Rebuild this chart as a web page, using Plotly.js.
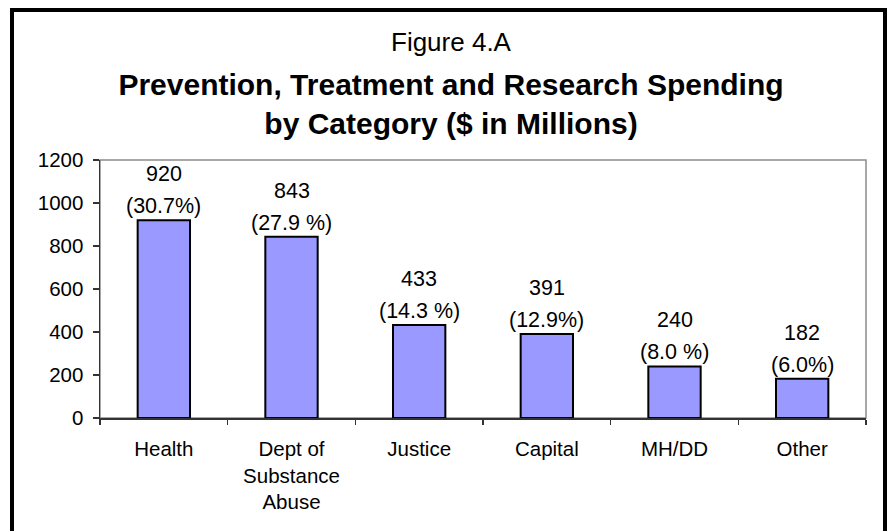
<!DOCTYPE html>
<html>
<head>
<meta charset="utf-8">
<script src="https://cdn.plot.ly/plotly-3.0.1.min.js"></script>
<style>
html,body{margin:0;padding:0;background:#fff;}
#chart{width:890px;height:531px;}
</style>
</head>
<body>
<div id="chart"></div>
<script>
const categories = ["Health", "Dept of<br>Substance<br>Abuse", "Justice", "Capital", "MH/DD", "Other"];
const values = [920, 843, 433, 391, 240, 182];
const percentLabels = ["(30.7%)", "(27.9 %)", "(14.3 %)", "(12.9%)", "(8.0 %)", "(6.0%)"];
const yTicks = [0, 200, 400, 600, 800, 1000, 1200];

const FONT = "Arial, 'Liberation Sans', sans-serif";

const trace = {
  type: "bar",
  x: categories,
  y: values,
  width: 0.41,
  marker: {color: "#9999FF", line: {color: "#000000", width: 2}},
  hoverinfo: "x+y",
  showlegend: false
};

const annotations = [];
categories.forEach((c, i) => {
  annotations.push({
    x: c, y: values[i], xref: "x", yref: "y",
    text: String(values[i]), showarrow: false,
    yanchor: "middle", yshift: 46,
    font: {family: FONT, size: 21.5, color: "#000"}
  });
  annotations.push({
    x: c, y: values[i], xref: "x", yref: "y",
    text: percentLabels[i], showarrow: false,
    yanchor: "middle", yshift: 14,
    font: {family: FONT, size: 21.5, color: "#000"}
  });
});
annotations.push({
  xref: "paper", yref: "paper", x: (451 - 100) / 766, y: (418 - 42) / 258,
  xanchor: "center", yanchor: "middle", showarrow: false,
  text: "Figure 4.A", font: {family: FONT, size: 26, color: "#000"}
});

const layout = {
  width: 890, height: 531,
  margin: {l: 100, r: 24, t: 160, b: 113},
  paper_bgcolor: "#ffffff",
  plot_bgcolor: "#ffffff",
  font: {family: FONT, size: 20.5, color: "#000"},
  title: {
    text: "<b>Prevention, Treatment and Research Spending</b><br><b>by Category ($ in Millions)</b>",
    font: {family: FONT, size: 30, color: "#000"},
    x: 451 / 890, xanchor: "center", xref: "container",
    y: 1 - 95 / 531, yanchor: "middle", yref: "container"
  },
  xaxis: {
    type: "category",
    range: [-0.5, 5.5],
    showline: true, linecolor: "#333", linewidth: 1.5,
    ticks: "outside", tickson: "boundaries", ticklen: 5, tickcolor: "#333", tickwidth: 1.5,
    showgrid: false, zeroline: false,
    tickfont: {family: FONT, size: 20.5, color: "#000"},
    ticklabelstandoff: 12,
    fixedrange: true
  },
  yaxis: {
    range: [0, 1200],
    tickvals: yTicks,
    showline: true, linecolor: "#333", linewidth: 1.5,
    ticks: "outside", ticklen: 6, tickcolor: "#333", tickwidth: 1.5,
    showgrid: false, zeroline: false,
    tickfont: {family: FONT, size: 20.5, color: "#000"},
    ticklabelstandoff: 5,
    fixedrange: true
  },
  shapes: [
    {type: "rect", xref: "paper", yref: "paper", x0: 0, x1: 1, y0: 0, y1: 1,
     line: {color: "#8c8c8c", width: 1.5}, layer: "below"},
    {type: "rect", xref: "paper", yref: "paper",
     x0: (12 - 100) / 766, x1: (885 - 100) / 766,
     y0: (418 - 545) / 258, y1: (418 - 10) / 258,
     line: {color: "#000", width: 4}, fillcolor: "rgba(0,0,0,0)", layer: "above"}
  ],
  annotations: annotations,
  bargap: 0.59
};

Plotly.newPlot("chart", [trace], layout, {displayModeBar: false, staticPlot: true});
</script>
</body>
</html>
